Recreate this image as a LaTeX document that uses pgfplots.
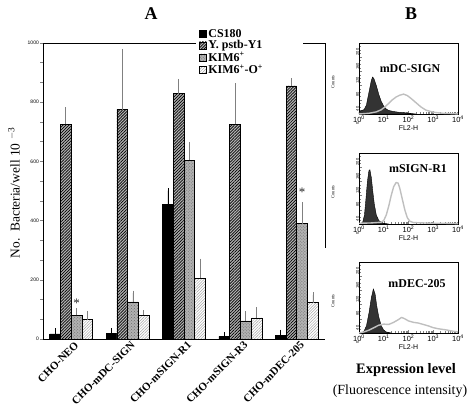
\documentclass[border=0pt]{standalone}
\usepackage{fontspec}
\setmainfont{Liberation Serif}
\setsansfont{Liberation Sans}
\usepackage{pgfplots}
\pgfplotsset{compat=1.18}
\usetikzlibrary{patterns,patterns.meta}

\pgfplotsset{
  hist/.style={
    scale only axis, width=99bp, height=71bp,
    xmin=0, xmax=4, ymin=0, ymax=200, clip=false,
    axis line style={line width=0.8pt},
    xtick={0,1,2,3,4},
    xticklabels={10\textsuperscript{0},10\textsuperscript{1},10\textsuperscript{2},10\textsuperscript{3},10\textsuperscript{4}},
    minor xtick={0.301,0.477,0.602,0.699,0.778,0.845,0.903,0.954,
                 1.301,1.477,1.602,1.699,1.778,1.845,1.903,1.954,
                 2.301,2.477,2.602,2.699,2.778,2.845,2.903,2.954,
                 3.301,3.477,3.602,3.699,3.778,3.845,3.903,3.954},
    ytick={0,40,...,200}, minor ytick={0,10,...,200},
    xtick pos=left, ytick pos=left, tick align=inside,
    major tick length=3bp, minor tick length=1.6bp,
    tick style={line width=0.5pt},
    /pgf/number format/assume math mode=true,
    x tick label style={font=\sffamily\fontsize{7.5}{7.5}\selectfont, inner sep=1.5pt},
    y tick label style={font=\sffamily\fontsize{4}{4}\selectfont, rotate=90, anchor=south, inner sep=0pt, xshift=-9bp},
    xlabel={FL2-H}, xlabel style={font=\sffamily\fontsize{7}{7}\selectfont, inner sep=0pt, yshift=-1.5bp},
  },
}
\tikzset{
  darkh/.style={fill=black!80, draw=black, line width=0.4pt},
  lighth/.style={draw=gray!50, line width=1.4pt, line join=round},
  cnt/.style={rotate=90, font=\fontsize{4.5}{4.5}\selectfont, inner sep=0pt},
}

\begin{document}
\begin{tikzpicture}
\useasboundingbox (0,0) rectangle (476bp,413bp);

% ---------------- Panel A ----------------
\begin{axis}[
  at={(43bp,74bp)}, anchor=south west, scale only axis,
  width=282bp, height=296bp,
  xmin=-0.5, xmax=4.5, ymin=0, ymax=1000, clip=false,
  axis x line*=bottom, axis y line*=left,
  axis line style={line width=0.8pt},
  ybar=0pt, bar width=0.19,
  xtick={0,1,2,3,4},
  xticklabels={CHO-NEO,CHO-mDC-SIGN,CHO-mSIGN-R1,CHO-mSIGN-R3,CHO-mDEC-205},
  x tick label style={rotate=45, anchor=north east, font=\bfseries\fontsize{11}{11}\selectfont, inner sep=1pt, xshift=4bp},
  xtick style={draw=none},
  ytick={0,200,...,1000}, minor y tick num=2,
  tick align=outside, major tick length=3bp, minor tick length=2.5bp,
  tick style={line width=0.6pt},
  /pgf/number format/1000 sep={},
  /pgf/number format/assume math mode=true,
  y tick label style={font=\sffamily\fontsize{5}{6}\selectfont, inner sep=1pt},
  legend cell align=left,
  legend style={at={(0.55,1.052)}, anchor=north west, draw=none, fill=none,
    font=\bfseries\fontsize{12}{12}\selectfont, inner xsep=1bp, inner ysep=0bp,
    row sep=-0.6bp, nodes={inner sep=1.3bp}},
  legend image code/.code={\draw[#1,line width=0.6pt] (0bp,-3.6bp) rectangle (7.2bp,3.6bp);},
  error bars/error bar style={gray, line width=0.7pt},
  error bars/error mark options={gray, line width=0.7pt, mark size=2.5pt},
]
% CS180
\addplot[fill=black, draw=black, line width=0.6pt,
  error bars/.cd, y dir=plus, y explicit,
  error bar style={black, line width=0.7pt}, error mark options={black, line width=0.7pt, mark size=2.5pt}]
  coordinates {(0,17) +- (0,11) (1,20) +- (0,8) (2,454) +- (0,47) (3,9) +- (0,6) (4,12) +- (0,11)};
% Y. pstb-Y1
\addplot[fill=gray!60, draw=black, line width=0.6pt,
  postaction={pattern={Lines[angle=45,distance=2.1pt,line width=0.7pt]}, pattern color=black},
  error bars/.cd, y dir=plus, y explicit]
  coordinates {(0,725) +- (0,50) (1,775) +- (0,197) (2,829) +- (0,41) (3,725) +- (0,130) (4,855) +- (0,17)};
% KIM6+
\addplot[fill=gray!60, draw=black, line width=0.6pt,
  postaction={pattern=crosshatch dots, pattern color=gray!85!black},
  error bars/.cd, y dir=plus, y explicit]
  coordinates {(0,80) +- (0,16) (1,125) +- (0,30) (2,604) +- (0,53) (3,61) +- (0,24) (4,390) +- (0,64)};
% KIM6+-O+
\addplot[fill=white, draw=black, line width=0.6pt,
  postaction={pattern={Lines[angle=45,distance=2pt,line width=0.5pt]}, pattern color=gray!70},
  error bars/.cd, y dir=plus, y explicit]
  coordinates {(0,65) +- (0,22) (1,81) +- (0,8) (2,206) +- (0,57) (3,71) +- (0,28) (4,123) +- (0,26)};
\legend{CS180, Y. pstb-Y1, KIM6\textsuperscript{+}, KIM6\textsuperscript{+}-O\textsuperscript{+}}
\draw[line width=0.8pt] (rel axis cs:0,1) -- (rel axis cs:0.543,1);
\draw[line width=0.8pt] (rel axis cs:0.922,1) -- (rel axis cs:1.003,1) -- (rel axis cs:1.003,0.307);
\node[font=\fontsize{13}{13}\selectfont, gray!30!black] at (axis cs:0.095,122) {*};
\node[font=\fontsize{13}{13}\selectfont, gray!30!black] at (axis cs:4.095,497) {*};
\end{axis}

% ---------------- Panel B ----------------
\begin{axis}[hist, at={(359bp,299bp)}, anchor=south west]
\addplot[darkh] coordinates {(0,5) (0.1,10) (0.2,12) (0.3,25) (0.4,60) (0.5,95) (0.55,104) (0.6,100) (0.7,80) (0.8,55) (0.9,35) (1.0,22) (1.1,14) (1.2,10) (1.4,7) (1.6,5) (1.9,3) (2.3,0)} \closedcycle;
\addplot[lighth] coordinates {(0,0) (0.4,2) (0.7,6) (0.9,12) (1.05,20) (1.2,30) (1.35,40) (1.5,48) (1.65,53) (1.8,56) (1.95,52) (2.1,44) (2.3,32) (2.5,20) (2.7,11) (2.9,7) (3.1,4) (3.4,2) (3.8,1) (4,0)};
\node[font=\bfseries\fontsize{12}{12}\selectfont] at (rel axis cs:0.515,0.64) {mDC-SIGN};
\node[cnt] at (rel axis cs:-0.263,0.45) {Counts};
\end{axis}

\begin{axis}[hist, at={(359bp,189bp)}, anchor=south west]
\addplot[darkh] coordinates {(0.05,0) (0.15,5) (0.22,25) (0.28,70) (0.34,120) (0.4,150) (0.44,153) (0.5,130) (0.56,90) (0.62,55) (0.7,25) (0.8,10) (0.9,4) (1.0,2) (1.2,0)} \closedcycle;
\addplot[lighth] coordinates {(0,2) (0.5,3) (0.9,5) (1.0,10) (1.1,25) (1.2,50) (1.3,80) (1.4,105) (1.5,117) (1.58,115) (1.65,100) (1.75,70) (1.85,40) (1.95,18) (2.05,8) (2.2,4) (2.6,3) (3,2) (3.5,2) (4,1)};
\node[font=\bfseries\fontsize{12}{12}\selectfont] at (rel axis cs:0.596,0.775) {mSIGN-R1};
\node[cnt] at (rel axis cs:-0.263,0.45) {Counts};
\end{axis}

\begin{axis}[hist, at={(359bp,80bp)}, anchor=south west]
\addplot[darkh] coordinates {(0.1,0) (0.2,5) (0.3,20) (0.4,55) (0.5,100) (0.58,124) (0.65,110) (0.72,75) (0.8,45) (0.9,20) (1.0,8) (1.1,3) (1.3,0)} \closedcycle;
\addplot[lighth] coordinates {(0,0) (0.2,3) (0.4,8) (0.6,15) (0.8,22) (1.0,25) (1.2,24) (1.4,30) (1.6,38) (1.72,44) (1.85,40) (2.0,34) (2.2,30) (2.4,28) (2.6,24) (2.8,20) (3.0,15) (3.2,12) (3.5,9) (3.8,5) (4,3)};
\node[font=\bfseries\fontsize{12}{12}\selectfont] at (rel axis cs:0.586,0.69) {mDEC-205};
\node[cnt] at (rel axis cs:-0.263,0.45) {Counts};
\end{axis}

% ---------------- Text ----------------
\node[font=\bfseries\fontsize{18}{18}\selectfont] at (151bp,399bp) {A};
\node[font=\bfseries\fontsize{18}{18}\selectfont] at (411bp,399bp) {B};
\node[rotate=90, font=\fontsize{13.5}{13.5}\selectfont] at (14bp,220bp) {No.\ \ Bacteria/well 10\ \textsuperscript{$-$3}};
\node[font=\bfseries\fontsize{14.5}{14.5}\selectfont] at (406bp,43bp) {Expression level};
\node[font=\fontsize{14}{14}\selectfont] at (400bp,22bp) {(Fluorescence intensity)};
\end{tikzpicture}
\end{document}
